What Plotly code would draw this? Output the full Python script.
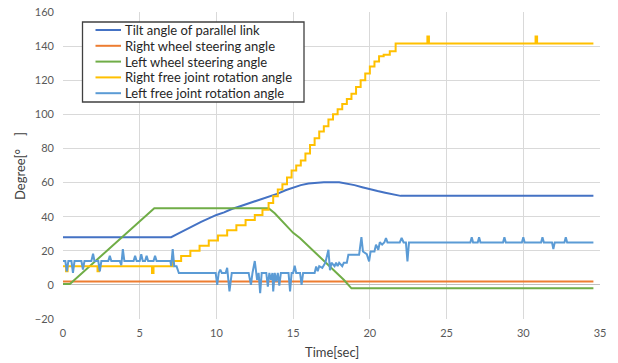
import plotly.graph_objects as go

# ---- data ----
tilt_t = [0, 7.05, 7.5, 8.0, 8.5, 9.0, 9.5, 10.0, 10.5, 11.0, 11.5, 12.0, 12.5, 13.0, 13.5, 14.0, 14.5,
          15.0, 15.5, 16.0, 16.5, 17.0, 18.0, 18.5, 19.0, 19.5, 20.0, 20.5, 21.0, 21.5, 22.0, 34.57]
tilt_v = [28, 28, 30, 32.5, 35, 37, 39, 41, 42.5, 44.5, 46, 47.5, 49, 50.5, 52, 53.5, 55.5,
          57, 58.5, 59.5, 60, 60.2, 60.2, 59.5, 58.5, 57.3, 56, 55, 54, 53, 52.2, 52.2]

rwheel_t = [0, 34.57]
rwheel_v = [2, 2]

lwheel_t = [0, 0.45, 5.95, 13.4, 13.8, 15.0, 15.44, 16.5, 17.6, 18.3, 18.8, 34.57]
lwheel_v = [0.5, 0.5, 45, 45, 42, 30.5, 27.5, 18.5, 9, 3, -2, -2]

rfree_t = [0, 0.2, 0.3, 2.25, 2.35, 5.8, 5.9,
           7.15, 7.7, 8.3, 8.9, 9.5, 10.1, 10.7, 11.3, 11.9, 12.5, 13.0, 13.4, 13.7, 14.0, 14.3,
           14.6, 14.9, 15.2, 15.5, 15.8, 16.1, 16.4, 16.7, 17.0, 17.3, 17.6, 17.9, 18.2, 18.5,
           18.8, 19.1, 19.4, 19.7, 20.0, 20.3, 20.6, 20.9, 21.3, 21.68,
           23.75, 23.85, 30.8, 30.9, 34.57]
rfree_v = [11, 8, 11, 8, 11, 7, 11,
           14, 17, 20, 23, 26, 29, 32, 35, 38, 41, 44, 48, 52, 56, 59,
           63, 67, 70, 73, 77, 82, 86, 90, 93, 97, 100, 103, 106, 109,
           112, 116, 120, 124, 128, 131, 134, 135, 137, 141.5,
           145.7, 141.5, 145.7, 141.5, 141.5]

lfree_t = [0, 0.15, 0.25, 0.35, 0.55, 0.65, 0.75, 1.2, 1.3, 1.4, 1.85, 1.96, 2.05, 2.3, 2.4, 2.5,
           2.95, 3.05, 3.15, 3.7, 3.8, 3.9, 4.0, 4.6, 4.7, 4.8, 5.0, 5.1, 5.2, 5.35, 5.45, 5.55,
           5.9, 6.0, 6.1, 7.0, 7.05, 7.15, 7.25, 7.4, 7.55,
           9.95, 10.05, 10.15, 10.25, 10.35, 10.6, 10.7, 10.85, 11.0,
           12.1, 12.25, 12.35, 12.5, 12.65, 12.75, 12.85, 12.95,
           13.25, 13.35, 13.45, 13.55, 13.65, 13.7, 13.8, 13.9, 14.0, 14.1, 14.2,
           14.7, 14.8, 14.9, 15.0, 15.1, 15.2, 15.45, 15.55, 15.65,
           16.4, 16.5, 16.6, 16.7, 16.9, 17.1, 17.3, 17.4, 17.5, 17.7, 17.8, 17.9, 18.0, 18.2,
           18.3, 18.5, 18.6, 19.3, 19.45, 19.55, 19.8, 19.95, 20.05, 20.3, 20.4, 20.55, 20.65,
           20.8, 20.95, 21.05, 21.15, 21.95, 22.07, 22.2, 22.35, 22.45, 22.55,
           26.55, 26.64, 26.73, 27.03, 27.12, 27.21, 28.68, 28.77, 28.86, 29.91, 30.0, 30.09,
           31.16, 31.25, 31.34, 31.87, 31.96, 32.05, 32.68, 32.77, 32.86, 34.57]
lfree_v = [14, 14, 8, 14, 14, 7, 14, 14, 9, 14, 14, 18.3, 14, 14, 8, 14,
           14, 17, 14, 14, 11.5, 21, 14, 14, 17, 14, 14, 18, 14, 14, 17, 14,
           14, 17, 14, 14, 11, 21, 11, 11, 7,
           7, 0, 7, 9, 7, 7, 10, -3.8, 7,
           7, 0, 7, 14, 3, 7, -4.8, 7,
           7, -1, 7, 3, 7, -3.8, 7, 2, 7, -0.5, 7,
           7, -3.8, 7, 7, 11.2, 7, 7, 0, 7,
           7, 10.8, 8, 11, 10, 13, 20.6, 8.6, 13, 11, 13, 11, 13, 11,
           13, 13, 17.7, 17.7, 28, 19.6, 18, 13.8, 19.6, 19.6, 23.6, 20.6, 25,
           23.6, 25, 27.5, 24.9, 24.9, 27.5, 24.9, 24.9, 13.8, 24.9,
           24.9, 28, 24.9, 24.9, 28, 24.9, 24.9, 28, 24.9, 24.9, 28, 24.9,
           24.9, 28, 24.9, 24.9, 21, 24.9, 24.9, 28, 24.9, 24.9]

series_names = ["Tilt angle of parallel link", "Right wheel steering angle",
                "Left wheel steering angle", "Right free joint rotation angle",
                "Left free joint rotation angle"]
series_colors = ["#4472C4", "#ED7D31", "#70AD47", "#FFC000", "#5B9BD5"]

x_ticks = [0, 5, 10, 15, 20, 25, 30, 35]
y_ticks = [-20, 0, 20, 40, 60, 80, 100, 120, 140, 160]

FONT = "Lato"
W, H = 618, 363
ML, MR, MT, MB = 63, 18, 12, 44
PW, PH = W - ML - MR, H - MT - MB


def px_x(p):  # page pixel -> paper coord
    return (p - ML) / PW


def px_y(p):
    return 1 - (p - MT) / PH


fig = go.Figure()
data = [(tilt_t, tilt_v, "linear"), (rwheel_t, rwheel_v, "linear"), (lwheel_t, lwheel_v, "linear"),
        (rfree_t, rfree_v, "hv"), (lfree_t, lfree_v, "linear")]
for (tx, ty, shp), nm, col in zip(data, series_names, series_colors):
    fig.add_trace(go.Scatter(x=tx, y=ty, mode="lines", name=nm, showlegend=False,
                             line=dict(color=col, width=2, shape=shp)))

# manual legend (box, sample lines, labels)
shapes = [dict(type="rect", xref="paper", yref="paper",
               x0=px_x(82.5), x1=px_x(304), y0=px_y(102), y1=px_y(22),
               line=dict(color="#404040", width=1.3), fillcolor="white", layer="above")]
annotations = []
row_y = [30, 45.8, 61.6, 77.4, 93.2]
for ry, nm, col in zip(row_y, series_names, series_colors):
    shapes.append(dict(type="line", xref="paper", yref="paper",
                       x0=px_x(95.5), x1=px_x(121), y0=px_y(ry), y1=px_y(ry),
                       line=dict(color=col, width=2), layer="above"))
    annotations.append(dict(text=nm, xref="paper", yref="paper", x=px_x(123), y=px_y(ry),
                            xanchor="left", yanchor="middle", showarrow=False,
                            font=dict(family=FONT, size=13, color="#262626")))

# axis titles
annotations.append(dict(text="Time[sec]", xref="paper", yref="paper", x=px_x(331.5), y=px_y(352),
                        xanchor="center", yanchor="middle", showarrow=False,
                        font=dict(family=FONT, size=13, color="#404040")))
annotations.append(dict(text="Degree[°\u3000]", xref="paper", yref="paper", x=px_x(20), y=px_y(166),
                        xanchor="center", yanchor="middle", showarrow=False, textangle=-90,
                        font=dict(family=FONT, size=13, color="#404040")))

fig.update_layout(
    width=W, height=H,
    margin=dict(l=ML, r=MR, t=MT, b=MB),
    paper_bgcolor="white", plot_bgcolor="white",
    font=dict(family=FONT, size=11, color="#595959"),
    showlegend=False,
    shapes=shapes, annotations=annotations,
)
fig.update_xaxes(range=[0, 35], tickvals=x_ticks, showgrid=True, gridcolor="#d9d9d9", gridwidth=1,
                 zeroline=False, showline=False, ticks="", automargin=False, ticklabelstandoff=6,
                 ticklabeloverflow="allow",
                 tickfont=dict(family=FONT, size=11, color="#595959"))
fig.update_yaxes(range=[-20, 160], tickvals=y_ticks, showgrid=True, gridcolor="#d9d9d9", gridwidth=1,
                 zeroline=True, zerolinecolor="#bfbfbf", zerolinewidth=1, showline=False, ticks="",
                 automargin=False, ticklabelstandoff=8, ticklabeloverflow="allow",
                 tickfont=dict(family=FONT, size=11, color="#595959"))

fig.write_html("out.html", config={"displayModeBar": False},
               post_script="document.body.style.margin='0';document.body.style.overflow='hidden';")
